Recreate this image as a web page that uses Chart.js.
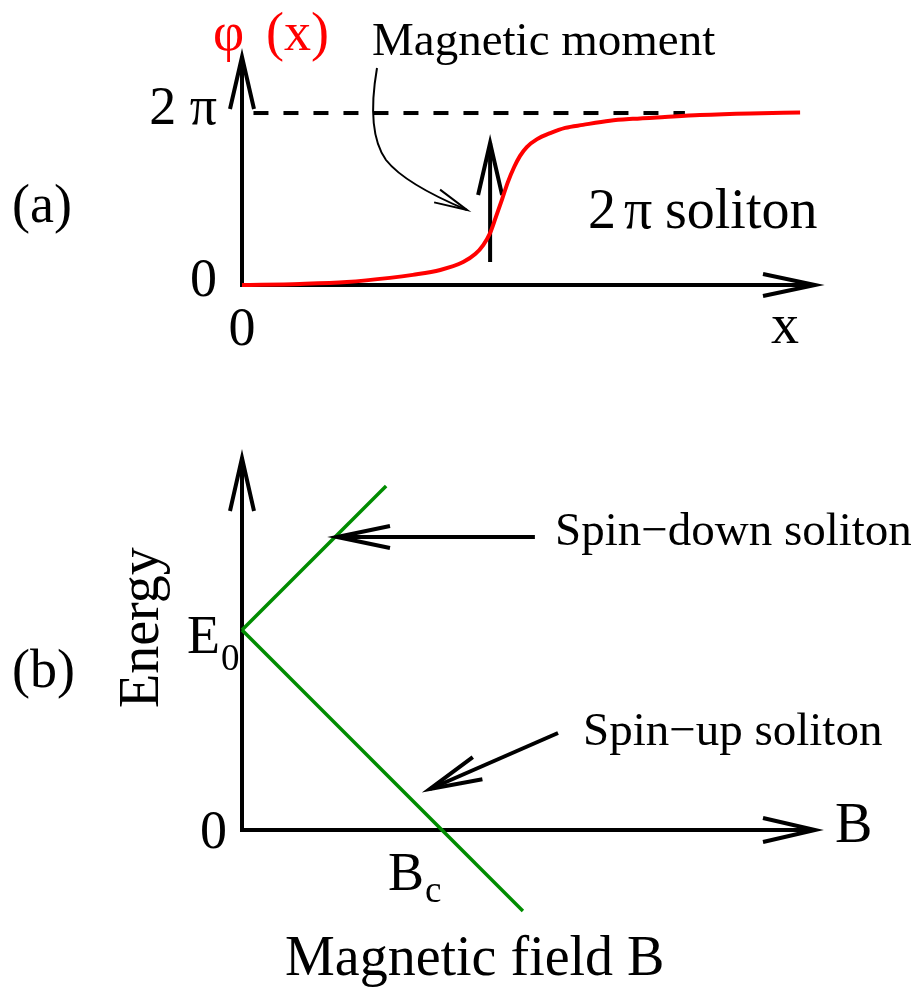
<!DOCTYPE html>
<html><head><meta charset="utf-8">
<script src="https://cdn.jsdelivr.net/npm/chart.js@4"></script>
<style>
html,body{margin:0;padding:0;background:#fff;}
#wrap{position:relative;width:911px;height:987px;overflow:hidden;}
canvas{position:absolute;left:0;top:0;}
</style>
</head><body>
<div id="wrap"><canvas id="ca" width="911" height="987"></canvas><canvas id="cb" width="911" height="987"></canvas></div>
<script>
// ---------- Panel (a): 2π soliton profile φ(x) ----------
const solitonX   = [0, 1.01, 1.83, 2.58, 2.98, 3.46, 3.86, 4.07, 4.21, 4.33, 4.43, 4.54, 4.64, 4.75, 4.85, 4.97, 5.15, 5.38, 5.64, 5.95, 6.42, 6.82, 7.38, 7.99, 8.87, 9.74];
const solitonPhi = [0, 0.04, 0.11, 0.26, 0.37, 0.55, 0.84, 1.13, 1.46, 1.90, 2.48, 3.14, 3.76, 4.31, 4.71, 5.04, 5.33, 5.55, 5.74, 5.85, 6.00, 6.07, 6.14, 6.21, 6.27, 6.30];
const asymptoteX = [0.2, 7.73];
const asymptotePhi = 2 * Math.PI;
const phiTickValues = [0, 2 * Math.PI];
const phiTickLabels = ['0', '2 π'];
const xTickValues = [0];
const xTickLabels = ['0'];
const momentX = 4.33;
const momentPhi = [0.84, 5.19];

// ---------- Panel (b): soliton energy vs magnetic field ----------
const fieldUp = [0, 0.71];
const energyUp = [1, 1.72];
const fieldDown = [0, 1.384];
const energyDown = [1, -0.405];
const energyTickValues = [0, 1];
const energyTickLabels = ['0', 'E|0'];
const fieldTickValues = [1];
const fieldTickLabels = ['B|c'];

const SERIF = '"Liberation Serif", "Times New Roman", serif';
function font(s) { return s + 'px ' + SERIF; }
function txt(ctx, s, x, y, size, color, align) {
  ctx.save();
  ctx.font = font(size);
  ctx.fillStyle = color || '#000';
  ctx.textAlign = align || 'left';
  ctx.textBaseline = 'alphabetic';
  ctx.fillText(s, x, y);
  ctx.restore();
}
function line(ctx, x1, y1, x2, y2, w) {
  ctx.save();
  ctx.strokeStyle = '#000'; ctx.lineWidth = w; ctx.lineCap = 'butt';
  ctx.beginPath(); ctx.moveTo(x1, y1); ctx.lineTo(x2, y2); ctx.stroke();
  ctx.restore();
}
function head(ctx, tx, ty, fx, fy, len, hw, w) {
  const dx = tx - fx, dy = ty - fy, L = Math.hypot(dx, dy);
  const ux = dx / L, uy = dy / L, nx = -uy, ny = ux;
  const bx = tx - ux * len, by = ty - uy * len;
  ctx.save();
  ctx.strokeStyle = '#000'; ctx.lineWidth = w; ctx.lineCap = 'butt'; ctx.lineJoin = 'miter';
  ctx.beginPath();
  ctx.moveTo(bx + nx * hw, by + ny * hw);
  ctx.lineTo(tx, ty);
  ctx.lineTo(bx - nx * hw, by - ny * hw);
  ctx.stroke();
  ctx.restore();
}
function arrow(ctx, fx, fy, tx, ty, w, len, hw) {
  line(ctx, fx, fy, tx, ty, w);
  head(ctx, tx, ty, fx, fy, len, hw, w);
}
// label with optional subscript, written as "main|sub"
function subLabel(ctx, s, x, y, size, subSize, subDrop) {
  const parts = s.split('|');
  ctx.save();
  ctx.font = font(size);
  const w = ctx.measureText(parts[0]).width;
  ctx.restore();
  txt(ctx, parts[0], x, y, size);
  if (parts[1]) txt(ctx, parts[1], x + w + 1, y + subDrop, subSize);
}

const panelA = {
  id: 'panelA',
  beforeDatasetsDraw(chart) {
    const ctx = chart.ctx, a = chart.chartArea, xs = chart.scales.x, ys = chart.scales.y;
    const x0 = xs.getPixelForValue(0), y0 = ys.getPixelForValue(0);
    // axes with open arrowheads
    arrow(ctx, x0, y0 + 2, x0, a.top, 4, 52, 12);
    arrow(ctx, x0 - 2, y0, a.right, y0, 4, 52, 11);
    // magnetic moment arrow
    const mx = xs.getPixelForValue(momentX);
    arrow(ctx, mx, ys.getPixelForValue(momentPhi[0]), mx, ys.getPixelForValue(momentPhi[1]), 4, 52, 12);
  },
  afterDatasetsDraw(chart) {
    const ctx = chart.ctx, xs = chart.scales.x, ys = chart.scales.y;
    const x0 = xs.getPixelForValue(0), y0 = ys.getPixelForValue(0);
    // tick labels
    phiTickValues.forEach((v, i) => txt(ctx, phiTickLabels[i], x0 - 25, ys.getPixelForValue(v) + 11, 54, '#000', 'right'));
    xTickValues.forEach((v, i) => txt(ctx, xTickLabels[i], xs.getPixelForValue(v), y0 + 60, 54, '#000', 'center'));
    // axis titles
    txt(ctx, 'x', 785, y0 + 58, 56, '#000', 'center');
    txt(ctx, 'φ', 213, 50, 54, '#ff0000');
    txt(ctx, '(x)', 266, 50, 54, '#ff0000');
    txt(ctx, '(a)', 12, 222, 54);
    // annotations
    txt(ctx, 'Magnetic moment', 372, 55, 47);
    txt(ctx, '2', 588, 228, 56);
    txt(ctx, 'π', 624, 228, 56);
    txt(ctx, 'soliton', 665, 228, 56);
    // thin curved pointer from the label to the moment
    ctx.save();
    ctx.strokeStyle = '#000'; ctx.lineWidth = 2;
    ctx.beginPath();
    ctx.moveTo(377, 68);
    ctx.quadraticCurveTo(366, 132, 386, 160);
    ctx.quadraticCurveTo(405, 184, 467, 210);
    ctx.stroke();
    ctx.restore();
    head(ctx, 467, 210, 420, 188, 33, 7, 2);
  }
};

const panelB = {
  id: 'panelB',
  beforeDatasetsDraw(chart) {
    const ctx = chart.ctx, a = chart.chartArea, xs = chart.scales.x, ys = chart.scales.y;
    const x0 = xs.getPixelForValue(0), y0 = ys.getPixelForValue(0);
    arrow(ctx, x0, y0 + 2, x0, a.top, 4, 53, 12);
    arrow(ctx, x0 - 2, y0, a.right, y0, 4, 52, 12);
  },
  afterDatasetsDraw(chart) {
    const ctx = chart.ctx, xs = chart.scales.x, ys = chart.scales.y;
    const x0 = xs.getPixelForValue(0), y0 = ys.getPixelForValue(0);
    // energy ticks
    txt(ctx, energyTickLabels[0], x0 - 15, ys.getPixelForValue(energyTickValues[0]) + 18, 54, '#000', 'right');
    subLabel(ctx, energyTickLabels[1], x0 - 55, ys.getPixelForValue(energyTickValues[1]) + 23, 54, 37, 17);
    // field tick
    subLabel(ctx, fieldTickLabels[0], xs.getPixelForValue(fieldTickValues[0]) - 57, y0 + 60, 54, 37, 12);
    // axis labels
    txt(ctx, 'B', 835, y0 + 12, 56);
    txt(ctx, 'Magnetic field B', 285, 975, 56);
    ctx.save();
    ctx.translate(158, 708);
    ctx.rotate(-Math.PI / 2);
    txt(ctx, 'Energy', 0, 0, 56);
    ctx.restore();
    txt(ctx, '(b)', 12, 687, 54);
    // soliton branch pointers
    arrow(ctx, xs.getPixelForValue(1.443), ys.getPixelForValue(1.465), xs.getPixelForValue(0.468), ys.getPixelForValue(1.465), 4, 53, 11);
    txt(ctx, 'Spin−down soliton', 555, 545, 47);
    arrow(ctx, xs.getPixelForValue(1.557), ys.getPixelForValue(0.485), xs.getPixelForValue(0.926), ys.getPixelForValue(0.205), 4, 52, 12);
    txt(ctx, 'Spin−up soliton', 583, 745, 47);
  }
};

const common = {
  responsive: false, animation: false, events: [], devicePixelRatio: 1,
  plugins: { legend: { display: false }, tooltip: { enabled: false } }
};

new Chart(document.getElementById('ca'), {
  type: 'line',
  data: { datasets: [
    { data: solitonX.map((x, i) => ({ x: x, y: solitonPhi[i] })), borderColor: '#ff0000', borderWidth: 4,
      pointRadius: 0, cubicInterpolationMode: 'monotone', fill: false, clip: false },
    { data: asymptoteX.map(x => ({ x: x, y: asymptotePhi })), borderColor: '#000', borderWidth: 4,
      borderDash: [15, 15], pointRadius: 0, fill: false, clip: false }
  ] },
  options: Object.assign({}, common, {
    layout: { padding: { left: 242, right: 96, top: 57, bottom: 702 } },
    scales: { x: { type: 'linear', min: 0, max: 10, display: false },
              y: { type: 'linear', min: 0, max: 8.33, display: false } }
  }),
  plugins: [panelA]
});

new Chart(document.getElementById('cb'), {
  type: 'line',
  data: { datasets: [
    { data: fieldUp.map((x, i) => ({ x: x, y: energyUp[i] })), borderColor: 'rgb(0,140,0)', borderWidth: 3.5, pointRadius: 0, fill: false, clip: false },
    { data: fieldDown.map((x, i) => ({ x: x, y: energyDown[i] })), borderColor: 'rgb(0,140,0)', borderWidth: 3.5, pointRadius: 0, fill: false, clip: false }
  ] },
  options: Object.assign({}, common, {
    layout: { padding: { left: 242, right: 96, top: 458, bottom: 76 } },
    scales: { x: { type: 'linear', min: 0, max: 2.823, display: false },
              y: { type: 'linear', min: -0.405, max: 1.86, display: false } }
  }),
  plugins: [panelB]
});
</script>
</body></html>
